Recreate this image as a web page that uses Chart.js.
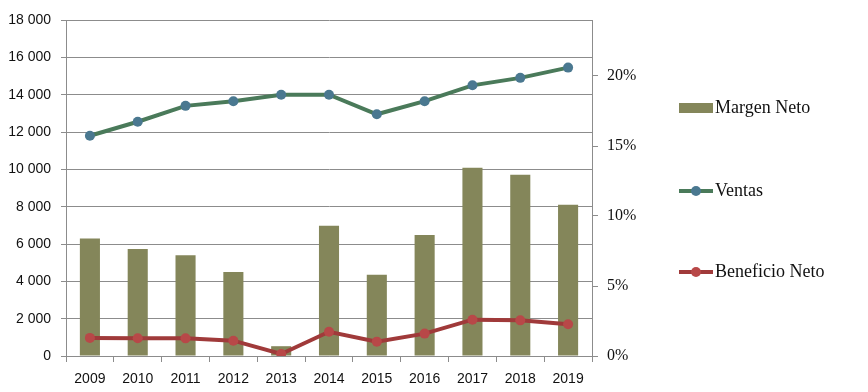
<!DOCTYPE html>
<html>
<head>
<meta charset="utf-8">
<script src="https://cdn.jsdelivr.net/npm/chart.js@4.4.1/dist/chart.umd.min.js"></script>
<style>
  body { margin: 0; background: #fff; }
  #wrap { position: relative; width: 868px; height: 392px; }
  #legend { position: absolute; left: 679px; top: 0; font-family: "Liberation Serif", "DejaVu Serif", serif; font-size: 18px; color: #111; }
  .item { position: absolute; left: 0; display: flex; align-items: center; white-space: nowrap; }
  .swatch { width: 34px; height: 10px; margin-right: 2px; }
  .line { position: relative; width: 34px; height: 4px; margin-right: 2px; }
  .line span { position: absolute; left: 12px; top: -3px; width: 10px; height: 10px; border-radius: 50%; }
</style>
</head>
<body>
<div id="wrap">
  <canvas id="chart" width="868" height="392"></canvas>
  <div id="legend">
    <div class="item" style="top:97px"><div class="swatch" style="background:#84865a"></div>Margen Neto</div>
    <div class="item" style="top:180px"><div class="line" style="background:#4a7a5a"><span style="background:#4a7890"></span></div>Ventas</div>
    <div class="item" style="top:261px"><div class="line" style="background:#a03a3a"><span style="background:#b84848"></span></div>Beneficio Neto</div>
  </div>
</div>
<script>
// Datos
const years = ['2009', '2010', '2011', '2012', '2013', '2014', '2015', '2016', '2017', '2018', '2019'];
const ventas = [11800, 12550, 13400, 13650, 14000, 14000, 12950, 13650, 14500, 14900, 15450];
const beneficioNeto = [970, 950, 945, 820, 110, 1300, 770, 1200, 1945, 1910, 1700];
const margenNeto = [8.4, 7.65, 7.2, 6.0, 0.7, 9.3, 5.8, 8.65, 13.45, 12.95, 10.8];

const gridColor = '#8c8c8c';
const sansFont = { family: "'Liberation Sans', 'DejaVu Sans', sans-serif", size: 14 };
const serifFont = { family: "'Liberation Serif', 'DejaVu Serif', serif", size: 16 };

const ctx = document.getElementById('chart').getContext('2d');
const chart = new Chart(ctx, {
    data: {
        labels: years,
        datasets: [{
            type: 'line',
            label: 'Ventas',
            data: ventas,
            yAxisID: 'y',
            borderColor: '#4a7a5a',
            backgroundColor: '#4a7890',
            borderWidth: 4,
            pointRadius: 5,
            pointBorderWidth: 0,
            pointBackgroundColor: '#4a7890',
            tension: 0,
            order: 1
        }, {
            type: 'line',
            label: 'Beneficio Neto',
            data: beneficioNeto,
            yAxisID: 'y',
            borderColor: '#a03a3a',
            backgroundColor: '#b84848',
            borderWidth: 4,
            pointRadius: 5,
            pointBorderWidth: 0,
            pointBackgroundColor: '#b84848',
            tension: 0,
            order: 2
        }, {
            type: 'bar',
            label: 'Margen Neto',
            data: margenNeto,
            yAxisID: 'y1',
            backgroundColor: '#84865a',
            barPercentage: 0.42,
            categoryPercentage: 1.0,
            order: 3
        }]
    },
    options: {
        responsive: false,
        animation: false,
        layout: { padding: { left: 0, top: 20, right: 216, bottom: 4 } },
        plugins: {
            legend: { display: false },
            tooltip: { enabled: false }
        },
        scales: {
            x: {
                offset: true,
                grid: { offset: true, drawOnChartArea: false, color: gridColor, tickLength: 6 },
                border: { color: gridColor },
                ticks: { color: '#111', font: sansFont, padding: 9, maxRotation: 0 },
                afterFit: s => { s.height = 32; }
            },
            y: {
                position: 'left',
                min: 0,
                max: 18000,
                ticks: {
                    stepSize: 2000,
                    color: '#111',
                    font: sansFont,
                    padding: 10,
                    callback: v => v.toLocaleString('en-US').replace(/,/g, ' ')
                },
                grid: { color: gridColor, tickLength: 5 },
                border: { color: gridColor },
                afterFit: s => { s.width = 66; }
            },
            y1: {
                position: 'right',
                min: 0,
                max: 24,
                ticks: {
                    stepSize: 5,
                    includeBounds: false,
                    color: '#111',
                    font: serifFont,
                    padding: 9,
                    callback: v => v + '%'
                },
                grid: { drawOnChartArea: false, color: gridColor, tickLength: 6 },
                border: { color: gridColor },
                afterFit: s => { s.width = 60; }
            }
        }
    }
});
</script>
</body>
</html>
